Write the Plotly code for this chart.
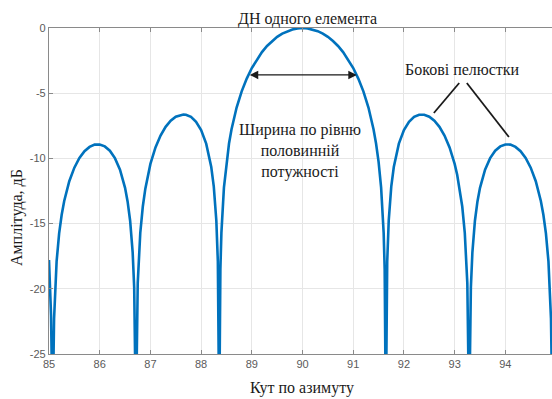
import plotly.graph_objects as go

# Azimuth angle (deg) and amplitude (dB)
angle = [
    85.0, 85.04, 85.071, 85.1, 85.15, 85.2, 85.25, 85.3, 85.4, 85.5, 85.6, 85.7, 85.8, 85.9,
    86.0, 86.1, 86.2, 86.3, 86.4, 86.5, 86.55, 86.6, 86.65, 86.68, 86.714, 86.75, 86.8,
    86.85, 86.9, 86.95, 87.0, 87.1, 87.2, 87.3, 87.4, 87.5, 87.6, 87.65, 87.7, 87.8, 87.9,
    88.0, 88.1, 88.2, 88.25, 88.3, 88.33, 88.357, 88.38, 88.4, 88.45, 88.5, 88.55, 88.6,
    88.7, 88.8, 88.9, 89.0, 89.1, 89.2, 89.3, 89.4, 89.5, 89.6, 89.7, 89.8, 89.9,
    90.0,
    90.1, 90.2, 90.3, 90.4, 90.5, 90.6, 90.7, 90.8, 90.9, 91.0, 91.1, 91.2, 91.3, 91.4,
    91.45, 91.5, 91.55, 91.6, 91.62, 91.643, 91.67, 91.7, 91.75, 91.8, 91.9, 92.0, 92.1,
    92.2, 92.3, 92.35, 92.4, 92.5, 92.6, 92.7, 92.8, 92.9, 93.0, 93.05, 93.1, 93.15, 93.2,
    93.25, 93.286, 93.32, 93.35, 93.4, 93.45, 93.5, 93.6, 93.7, 93.8, 93.9, 94.0, 94.1,
    94.2, 94.3, 94.4, 94.5, 94.6, 94.7, 94.75, 94.8, 94.85, 94.9, 94.929, 94.96, 95.0,
]
amplitude_db = [
    -17.8, -22.0, -30.0, -22.3, -17.9, -15.75, -14.32, -13.27, -11.75, -10.71, -9.97, -9.45, -9.12, -8.94,
    -8.93, -9.08, -9.41, -9.98, -10.86, -12.26, -13.30, -14.78, -17.2, -19.9, -30.0, -19.56, -15.72,
    -13.69, -12.32, -11.26, -10.42, -9.16, -8.25, -7.58, -7.11, -6.80, -6.65, -6.63, -6.65, -6.82, -7.19,
    -7.83, -8.87, -10.66, -12.17, -14.76, -17.92, -30.0, -18.48, -15.71, -12.24, -10.26, -8.86, -7.76,
    -6.10, -4.86, -3.88, -3.07, -2.41, -1.85, -1.38, -1.00, -0.68, -0.43, -0.24, -0.11, -0.03,
    0.0,
    -0.03, -0.11, -0.24, -0.43, -0.68, -1.00, -1.38, -1.85, -2.41, -3.07, -3.88, -4.86, -6.10, -7.76,
    -8.86, -10.26, -12.24, -15.71, -18.48, -30.0, -17.92, -14.76, -12.17, -10.66, -8.87, -7.83, -7.19,
    -6.82, -6.65, -6.63, -6.65, -6.80, -7.11, -7.58, -8.25, -9.16, -10.42, -11.26, -12.32, -13.69, -15.72,
    -19.56, -30.0, -19.9, -17.2, -14.78, -13.30, -12.26, -10.86, -9.98, -9.41, -9.08, -8.93, -8.94,
    -9.12, -9.45, -9.97, -10.71, -11.75, -13.27, -14.32, -15.75, -17.9, -22.3, -30.0, -22.0, -18.5,
]

x_ticks = [85, 86, 87, 88, 89, 90, 91, 92, 93, 94, 95]
x_tick_labels = ["85", "86", "87", "88", "89", "90", "91", "92", "93", "94", "95"]
y_ticks = [-25, -20, -15, -10, -5, 0]
y_tick_labels = ["-25", "-20", "-15", "-10", "-5", "0"]

title_text = "ДН одного елемента"
x_title = "Кут по азимуту"
y_title = "Амплітуда, дБ"
hpbw_text = "Ширина по рівню<br>половинній<br>потужності"
sidelobe_text = "Бокові пелюстки"

SERIF = "Liberation Serif, Times New Roman, serif"
SANS = "Liberation Sans, Arial, sans-serif"

fig = go.Figure()
fig.add_trace(go.Scatter(
    x=angle, y=amplitude_db, mode="lines",
    line=dict(color="#0072BD", width=2.6),
    showlegend=False, hoverinfo="skip",
))

axis_common = dict(
    showline=True, linecolor="#8a8a8a", linewidth=1.2,
    ticks="inside", ticklen=4, tickcolor="#8a8a8a", tickwidth=1,
    showgrid=True, gridcolor="#e6e6e6", gridwidth=1, zeroline=False,
    tickfont=dict(family=SANS, size=11, color="#5a5a5a"),
)

fig.update_layout(
    width=552, height=399,
    margin=dict(l=49, r=0, t=28, b=45),
    paper_bgcolor="white", plot_bgcolor="white",
    xaxis=dict(range=[85, 94.92], tickvals=x_ticks, ticktext=x_tick_labels,
               mirror="allticks", **axis_common),
    yaxis=dict(range=[-25, 0], tickvals=y_ticks, ticktext=y_tick_labels,
               mirror=False, **axis_common),
)

ann_font = dict(family=SERIF, size=16, color="#1a1a1a")

# title
fig.add_annotation(x=0.513, y=1.0276, xref="paper", yref="paper", text=title_text,
                   showarrow=False, font=ann_font, xanchor="center", yanchor="middle")
# axis titles
fig.add_annotation(x=0.503, y=-0.104, xref="paper", yref="paper", text=x_title,
                   showarrow=False, font=ann_font, xanchor="center", yanchor="middle")
fig.add_annotation(x=-0.0636, y=0.417, xref="paper", yref="paper", text=y_title,
                   showarrow=False, textangle=-90, font=ann_font,
                   xanchor="center", yanchor="middle")
# half power beamwidth text
fig.add_annotation(x=89.95, y=-9.4, text=hpbw_text, showarrow=False,
                   font=ann_font, xanchor="center", yanchor="middle", align="center")
# double arrow
fig.add_annotation(x=91.07, y=-3.6, ax=88.93, ay=-3.6, axref="x", ayref="y",
                   text="", showarrow=True, arrowhead=2, startarrowhead=2,
                   arrowside="end+start", arrowsize=1.3, arrowwidth=1.3,
                   arrowcolor="#1a1a1a", startstandoff=0, standoff=0)
# side lobes label
fig.add_annotation(x=93.15, y=-3.2, text=sidelobe_text, showarrow=False,
                   font=ann_font, xanchor="center", yanchor="middle")
fig.add_shape(type="line", x0=93.09, y0=-4.22, x1=92.59, y1=-6.52,
              line=dict(color="#1a1a1a", width=1.8))
fig.add_shape(type="line", x0=93.24, y0=-4.22, x1=94.07, y1=-8.36,
              line=dict(color="#1a1a1a", width=1.8))

fig.write_html("out.html")
